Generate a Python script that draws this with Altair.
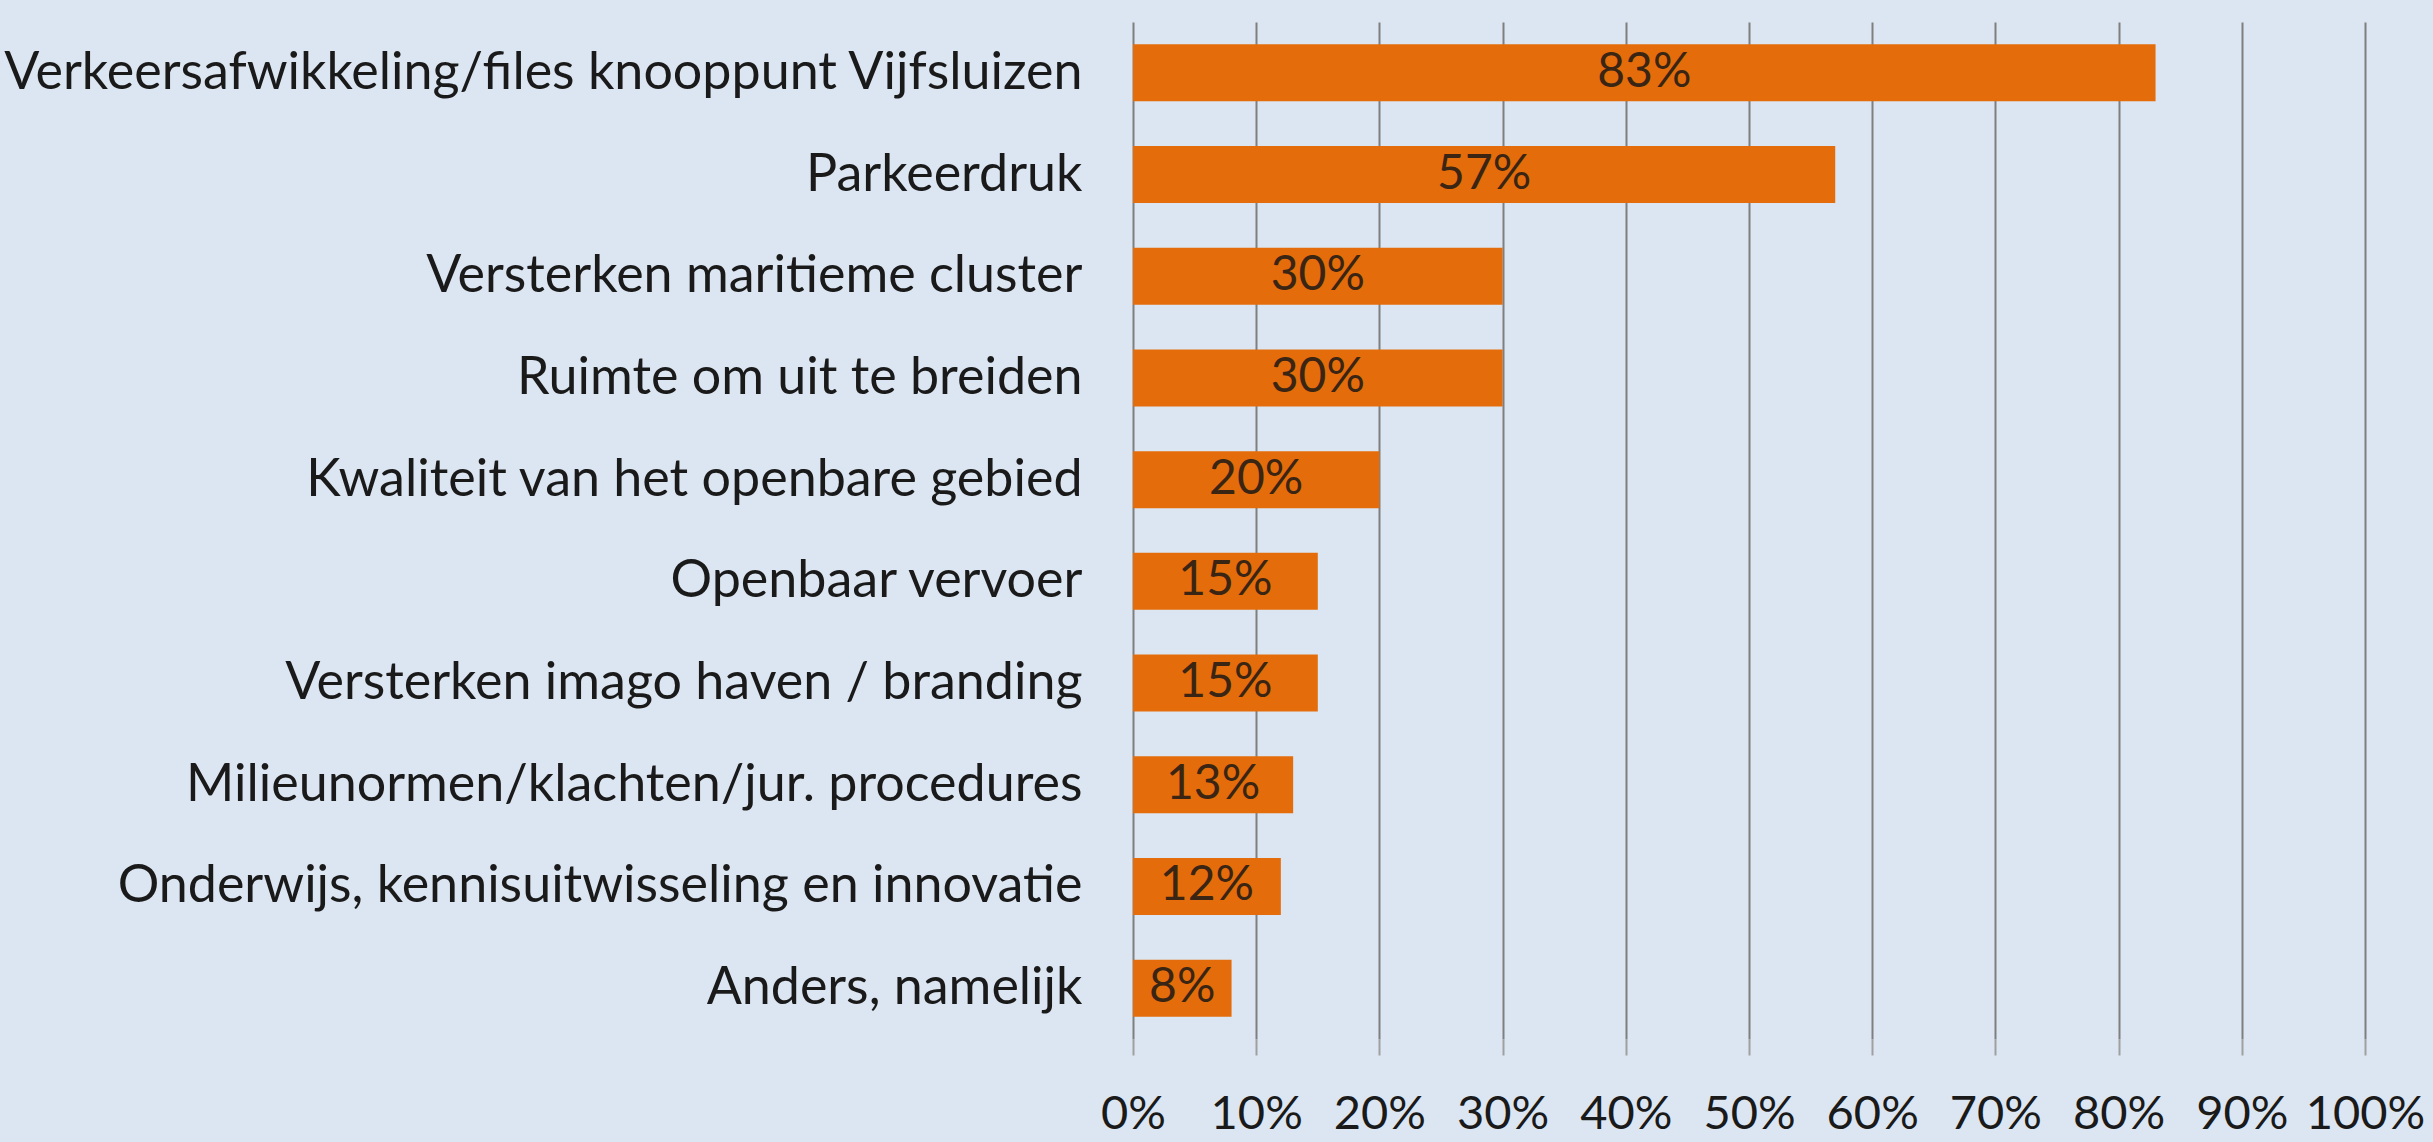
import altair as alt
import pandas as pd

categories = [
    "Verkeersafwikkeling/files knooppunt Vijfsluizen",
    "Parkeerdruk",
    "Versterken maritieme cluster",
    "Ruimte om uit te breiden",
    "Kwaliteit van het openbare gebied",
    "Openbaar vervoer",
    "Versterken imago haven / branding",
    "Milieunormen/klachten/jur. procedures",
    "Onderwijs, kennisuitwisseling en innovatie",
    "Anders, namelijk",
]
values = [83, 57, 30, 30, 20, 15, 15, 13, 12, 8]
tick_values = [0, 10, 20, 30, 40, 50, 60, 70, 80, 90, 100]

df = pd.DataFrame({"category": categories, "value": values})

FONT = "Lato"
BG = "#dce6f2"
ORANGE = "#e46c0a"

y_enc = alt.Y(
    "category:N",
    sort=categories,
    scale=alt.Scale(paddingInner=0.44, paddingOuter=0.22),
    axis=alt.Axis(
        title=None,
        labelFont=FONT,
        labelFontSize=52,
        labelColor="#1a1a1a",
        labelPadding=51,
        ticks=False,
        domain=False,
        labelLimit=2000,
    ),
)

x_enc = alt.X(
    "value:Q",
    scale=alt.Scale(domain=[0, 100], nice=False),
    axis=alt.Axis(
        title=None,
        values=tick_values,
        labelExpr="datum.value + '%'",
        labelFont=FONT,
        labelFontSize=47,
        labelColor="#1a1a1a",
        labelPadding=36,
        labelOverlap=False,
        labelFlush=False,
        labelBound=False,
        grid=True,
        gridColor="#7f7f7f",
        gridWidth=2,
        domain=False,
        ticks=True,
        tickColor="#a0a0a0",
        tickWidth=2,
        tickSize=16,
    ),
)

base = alt.Chart(df)

bars = base.mark_bar(color=ORANGE).encode(y=y_enc, x=x_enc)

text = (
    base.transform_calculate(mid="datum.value / 2", label="datum.value + '%'")
    .mark_text(font=FONT, fontSize=48, color="#3a2514", baseline="middle", align="center")
    .encode(
        y=alt.Y("category:N", sort=categories),
        x=alt.X("mid:Q"),
        text="label:N",
    )
)

chart = (
    alt.layer(bars, text)
    .properties(
        width=1232,
        height=1017,
        autosize=alt.AutoSizeParams(type="none"),
        padding={"left": 1133, "top": 22, "right": 68, "bottom": 103},
    )
    .configure(background=BG)
    .configure_view(stroke=None)
)

chart.save("out.html", embed_options={"renderer": "svg", "actions": False})
